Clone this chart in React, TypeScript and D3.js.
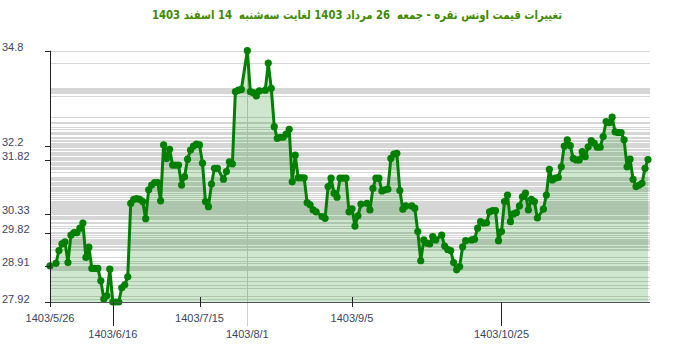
import React from "react";
import * as d3 from "d3";

const titleText = "تغییرات قیمت اونس نقره - جمعه  26 مرداد 1403 لغایت سه‌شنبه  14 اسفند 1403";

// day offset from 1403/5/26
const days = [0,2,3,4,5,6,7,8,9,10,
11,12,13,14,15,16,17,18,19,20,
21,22,23,24,25,26,27,28,29,30,
31,32,33,34,35,36,37,38,39,40,
41,42,43,44,45,46,47,48,49,50,
51,52,53,54,55,56,58,59,60,61,
62,63,64,66,67,68,69,70,72,73,
74,75,76,77,78,79,80,81,82,83,
84,85,86,87,88,89,91,92,93,94,
95,96,97,98,99,100,101,102,103,104,
106,107,108,109,110,111,112,113,114,115,
116,117,118,119,121,122,123,124,125,126,
127,128,129,131,132,133,134,135,136,137,
138,139,141,142,143,144,145,146,147,148,
149,150,151,152,153,154,155,156,157,158,
159,160,161,162,163,165,166,167,168,169,
170,171,172,173,174,175,176,177,178,179,
180,181,182,183,184,185,186,187,188,189,
190,191,192,193,194,195,196,197,198,199,
200];

const prices = [28.91,28.98,29.33,29.51,29.57,29.00,29.75,29.82,29.82,29.94,
30.08,29.14,29.42,28.84,28.84,28.84,28.50,28.00,28.09,28.82,
27.92,27.92,27.92,28.31,28.39,28.61,30.62,30.73,30.75,30.73,
30.67,30.20,30.99,31.12,31.19,31.19,30.69,32.22,31.85,32.10,
31.67,31.67,31.67,31.12,31.35,31.83,32.08,32.19,32.24,32.22,
31.72,30.67,30.53,31.15,31.58,31.58,31.28,31.49,31.76,31.70,
33.68,33.72,33.74,34.80,33.68,33.65,33.56,33.70,33.72,34.46,
33.77,32.72,32.40,32.43,32.43,32.52,32.65,31.21,31.94,31.32,
31.32,31.32,30.64,30.58,30.44,30.39,30.26,30.21,31.08,31.31,
30.90,30.79,31.31,31.31,31.31,30.39,30.47,30.00,30.28,30.60,
30.62,30.44,31.03,31.31,31.31,30.96,30.99,31.01,31.85,31.97,
31.99,30.97,30.46,30.55,30.55,30.49,29.85,29.05,29.62,29.53,
29.51,29.71,29.62,29.75,29.45,29.36,29.33,29.00,28.80,28.89,
29.43,29.60,29.62,29.64,29.94,30.12,30.08,30.09,30.39,30.42,
30.42,29.60,29.85,30.67,30.85,30.12,30.33,30.37,30.55,30.80,
30.90,30.44,30.73,30.67,30.22,30.46,30.85,31.55,31.26,31.31,
31.33,31.62,32.19,32.36,32.20,31.85,31.81,31.81,32.04,31.90,
32.17,32.34,32.27,32.16,32.16,32.45,32.86,32.83,32.98,32.58,
32.56,32.56,32.36,31.62,31.83,31.28,31.08,31.12,31.17,31.58,
31.82];

const yTickValues = [27.92, 28.91, 29.82, 30.33, 31.82, 32.2, 34.8];
const xTickDays = [0, 21, 50, 66, 101, 151];
const xTickLabels = ["1403/5/26", "1403/6/16", "1403/7/15", "1403/8/1", "1403/9/5", "1403/10/25"];
const xTickMarker = [false, false, false, true, false, false];

export default function App() {
  const W = 700, H = 352;
  const left = 50, right = 648, top = 50.7, bottom = 302;
  const x = d3.scaleLinear().domain([0, 200]).range([left, right]);
  const y = d3.scaleLinear().domain([27.92, 34.8]).range([bottom, top]);
  const n = Math.min(days.length, prices.length);
  const pts: [number, number][] = [];
  for (let i = 0; i < n; i++) pts.push([days[i], prices[i]]);

  const line = d3.line<[number, number]>().x(d => x(d[0])).y(d => y(d[1]));
  const area = d3.area<[number, number]>().x(d => x(d[0])).y0(bottom).y1(d => y(d[1]));
  const uniq = Array.from(new Set(prices));

  const labelFont = "'Liberation Sans', Arial, sans-serif";
  const labelColor = "#3c4560";

  return (
    <svg width={W} height={H} style={{ position: "absolute", left: 0, top: 0, background: "#fff" }}>
      <text x={357} y={19} textAnchor="middle" direction="rtl" textLength={410} lengthAdjust="spacingAndGlyphs"
        style={{ fontFamily: "Tahoma, 'DejaVu Sans', sans-serif", fontWeight: "bold", fontSize: 12, fill: "#3f8a00", whiteSpace: "pre" }}>
        {titleText}
      </text>
      {uniq.map((v, i) => (
        <line key={"g" + i} x1={left} x2={650} y1={Math.round(y(v)) + 0.5} y2={Math.round(y(v)) + 0.5}
          stroke="#d6d6d6" strokeWidth={1} />
      ))}
      {xTickDays.map((d, i) => xTickMarker[i] ? (
        <line key={"m" + i} x1={Math.round(x(d)) + 0.5} x2={Math.round(x(d)) + 0.5} y1={top} y2={326}
          stroke="#cfcfcf" strokeWidth={1} />
      ) : null)}
      <path d={area(pts) || ""} fill="rgba(0,128,0,0.19)" />
      <path d={line(pts) || ""} fill="none" stroke="#008000" strokeWidth={3} strokeLinejoin="round" />
      {pts.map((p, i) => (
        <circle key={"c" + i} cx={x(p[0])} cy={y(p[1])} r={3.6} fill="#008000" />
      ))}
      {/* y axis */}
      <line x1={left + 0.5} x2={left + 0.5} y1={top} y2={bottom} stroke="#222" strokeWidth={1} />
      {yTickValues.map((v, i) => (
        <g key={"y" + i}>
          <line x1={45} x2={left} y1={Math.round(y(v)) + 0.5} y2={Math.round(y(v)) + 0.5} stroke="#222" />
          <text x={2} y={y(v) + 0.5} style={{ fontFamily: labelFont, fontSize: 11, fill: labelColor }}>
            {String(v)}
          </text>
        </g>
      ))}
      {/* x axis */}
      <line x1={left} x2={650} y1={bottom + 0.5} y2={bottom + 0.5} stroke="#555" strokeWidth={1} />
      {xTickDays.map((d, i) => {
        const xx = Math.round(x(d)) + 0.5;
        const second = i % 2 === 1;
        return (
          <g key={"x" + i}>
            {!xTickMarker[i] && (
              second
                ? <line x1={xx} x2={xx} y1={bottom} y2={326} stroke="#222" />
                : <line x1={xx} x2={xx} y1={i === 0 ? bottom : 297} y2={307} stroke="#222" />
            )}
            <text x={x(d)} y={second ? 338 : 322} textAnchor="middle"
              style={{ fontFamily: labelFont, fontSize: 11, fill: labelColor }}>
              {xTickLabels[i]}
            </text>
          </g>
        );
      })}
    </svg>
  );
}
